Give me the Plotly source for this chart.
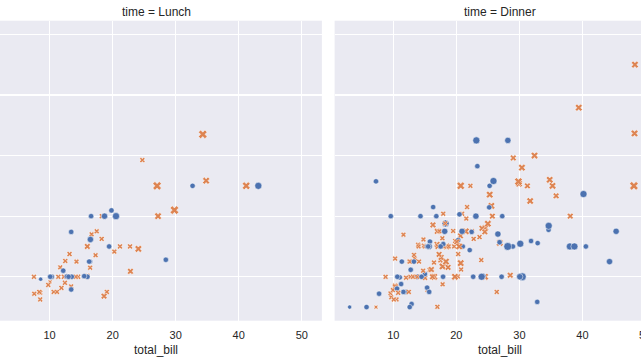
import plotly.graph_objects as go

total_bill = [
    16.99, 10.34, 21.01, 23.68, 24.59, 25.29, 8.77, 26.88, 15.04, 14.78,
    10.27, 35.26, 15.42, 18.43, 14.83, 21.58, 10.33, 16.29, 16.97, 20.65,
    17.92, 20.29, 15.77, 39.42, 19.82, 17.81, 13.37, 12.69, 21.7, 19.65,
    9.55, 18.35, 15.06, 20.69, 17.78, 24.06, 16.31, 16.93, 18.69, 31.27,
    16.04, 17.46, 13.94, 9.68, 30.4, 18.29, 22.23, 32.4, 28.55, 18.04,
    12.54, 10.29, 34.81, 9.94, 25.56, 19.49, 38.01, 26.41, 11.24, 48.27,
    20.29, 13.81, 11.02, 18.29, 17.59, 20.08, 16.45, 3.07, 20.23, 15.01,
    12.02, 17.07, 26.86, 25.28, 14.73, 10.51, 17.92, 27.2, 22.76, 17.29,
    19.44, 16.66, 10.07, 32.68, 15.98, 34.83, 13.03, 18.28, 24.71, 21.16,
    28.97, 22.49, 5.75, 16.32, 22.75, 40.17, 27.28, 12.03, 21.01, 12.46,
    11.35, 15.38, 44.3, 22.42, 20.92, 15.36, 20.49, 25.21, 18.24, 14.31,
    14.0, 7.25, 38.07, 23.95, 25.71, 17.31, 29.93, 10.65, 12.43, 24.08,
    11.69, 13.42, 14.26, 15.95, 12.48, 29.8, 8.52, 14.52, 11.38, 22.82,
    19.08, 20.27, 11.17, 12.26, 18.26, 8.51, 10.33, 14.15, 16.0, 13.16,
    17.47, 34.3, 41.19, 27.05, 16.43, 8.35, 18.64, 11.87, 9.78, 7.51,
    14.07, 13.13, 17.26, 24.55, 19.77, 29.85, 48.17, 25.0, 13.39, 16.49,
    21.5, 12.66, 16.21, 13.81, 17.51, 24.52, 20.76, 31.71, 10.59, 10.63,
    50.81, 15.81, 7.25, 31.85, 16.82, 32.9, 17.89, 14.48, 9.6, 34.63,
    34.65, 23.33, 45.35, 23.17, 40.55, 20.69, 20.9, 30.46, 18.15, 23.1,
    15.69, 19.81, 28.44, 15.48, 16.58, 7.56, 10.34, 43.11, 13.0, 13.51,
    18.71, 12.74, 13.0, 16.4, 20.53, 16.47, 26.59, 38.73, 24.27, 12.76,
    30.06, 25.89, 48.33, 13.27, 28.17, 12.9, 28.15, 11.59, 7.74, 30.14,
    12.16, 13.42, 8.58, 15.98, 13.42, 16.27, 10.09, 20.45, 13.28, 22.12,
    24.01, 15.69, 11.61, 10.77, 15.53, 10.07, 12.6, 32.83, 35.83, 29.03,
    27.18, 22.67, 17.82, 18.78,
]

tip = [
    1.01, 1.66, 3.5, 3.31, 3.61, 4.71, 2.0, 3.12, 1.96, 3.23,
    1.71, 5.0, 1.57, 3.0, 3.02, 3.92, 1.67, 3.71, 3.5, 3.35,
    4.08, 2.75, 2.23, 7.58, 3.18, 2.34, 2.0, 2.0, 4.3, 3.0,
    1.45, 2.5, 3.0, 2.45, 3.27, 3.6, 2.0, 3.07, 2.31, 5.0,
    2.24, 2.54, 3.06, 1.32, 5.6, 3.0, 5.0, 6.0, 2.05, 3.0,
    2.5, 2.6, 5.2, 1.56, 4.34, 3.51, 3.0, 1.5, 1.76, 6.73,
    3.21, 2.0, 1.98, 3.76, 2.64, 3.15, 2.47, 1.0, 2.01, 2.09,
    1.97, 3.0, 3.14, 5.0, 2.2, 1.25, 3.08, 4.0, 3.0, 2.71,
    3.0, 3.4, 1.83, 5.0, 2.03, 5.17, 2.0, 4.0, 5.85, 3.0,
    3.0, 3.5, 1.0, 4.3, 3.25, 4.73, 4.0, 1.5, 3.0, 1.5,
    2.5, 3.0, 2.5, 3.48, 4.08, 1.64, 4.06, 4.29, 3.76, 4.0,
    3.0, 1.0, 4.0, 2.55, 4.0, 3.5, 5.07, 1.5, 1.8, 2.92,
    2.31, 1.68, 2.5, 2.0, 2.52, 4.2, 1.48, 2.0, 2.0, 2.18,
    1.5, 2.83, 1.5, 2.0, 3.25, 1.25, 2.0, 2.0, 2.0, 2.75,
    3.5, 6.7, 5.0, 5.0, 2.3, 1.5, 1.36, 1.63, 1.73, 2.0,
    2.5, 2.0, 2.74, 2.0, 2.0, 5.14, 5.0, 3.75, 2.61, 2.0,
    3.5, 2.5, 2.0, 2.0, 3.0, 3.48, 2.24, 4.5, 1.61, 2.0,
    10.0, 3.16, 5.15, 3.18, 4.0, 3.11, 2.0, 2.0, 4.0, 3.55,
    3.68, 5.65, 3.5, 6.5, 3.0, 5.0, 3.5, 2.0, 3.5, 4.0,
    1.5, 4.19, 2.56, 2.02, 4.0, 1.44, 2.0, 5.0, 2.0, 2.0,
    4.0, 2.01, 2.0, 2.5, 4.0, 3.23, 3.41, 3.0, 2.03, 2.23,
    2.0, 5.16, 9.0, 2.5, 6.5, 1.1, 3.0, 1.5, 1.44, 3.09,
    2.2, 3.48, 1.92, 3.0, 1.58, 2.5, 2.0, 3.0, 2.72, 2.88,
    2.0, 3.0, 3.39, 1.47, 3.0, 1.25, 1.0, 1.17, 4.67, 5.92,
    2.0, 2.0, 1.75, 3.0,
]

# smoker per row, in groups of ten: Y = Yes, N = No
smoker_codes = [
    "NNNNNNNNNN", "NNNNNNNNNN", "NNNNNNNNNN", "NNNNNNNNNN", "NNNNNNNNNN",
    "NNNNNNYNYN", "YYYYNNNYNY", "NNYYNNYNNN", "YNNYNNNNNN", "YNYYNYYYYN",
    "YYYYNYYYNY", "NNNNNNNNNN", "NNNNNNNNNN", "NNNNNNNNYN", "NNNNNNNNNN",
    "NNNNNNNNNN", "NNNNYNNNYY", "YYYYYYYYYY", "YYYYYNYYYY", "YYYYYNYYYY",
    "YYYYYYYYYY", "YYNYYYYYYY", "YYYNYYYNNY", "YYNNYNYYNN", "YYNN",
]
smoker = ["Yes" if c == "Y" else "No" for c in "".join(smoker_codes)]

# meal time per row as runs: (code, count), L = Lunch, D = Dinner
time_runs = [("D", 77), ("L", 13), ("D", 27), ("L", 33), ("D", 41),
             ("L", 15), ("D", 14), ("L", 7), ("D", 17)]
time = []
for code, n in time_runs:
    time += ["Lunch" if code == "L" else "Dinner"] * n

size = [
    2, 3, 3, 2, 4, 4, 2, 4, 2, 2,
    2, 4, 2, 4, 2, 2, 3, 3, 3, 3,
    2, 2, 2, 4, 2, 4, 2, 2, 2, 2,
    2, 4, 2, 4, 2, 3, 3, 3, 3, 3,
    3, 2, 2, 2, 4, 2, 2, 4, 3, 2,
    2, 2, 4, 2, 4, 2, 4, 2, 2, 4,
    2, 2, 2, 4, 3, 3, 2, 1, 2, 2,
    2, 3, 2, 2, 2, 2, 2, 4, 2, 2,
    2, 2, 1, 2, 2, 4, 2, 2, 2, 2,
    2, 2, 2, 2, 2, 4, 2, 2, 2, 2,
    2, 2, 3, 2, 2, 2, 2, 2, 2, 2,
    2, 1, 3, 2, 3, 2, 4, 2, 2, 4,
    2, 2, 2, 2, 2, 6, 2, 2, 2, 3,
    2, 2, 2, 2, 2, 2, 2, 2, 2, 2,
    2, 6, 5, 6, 2, 2, 3, 2, 2, 2,
    2, 2, 3, 4, 4, 5, 6, 4, 2, 4,
    4, 2, 3, 2, 2, 3, 2, 4, 2, 2,
    3, 2, 2, 2, 2, 2, 2, 2, 2, 2,
    4, 2, 3, 4, 2, 5, 3, 5, 3, 3,
    2, 2, 2, 2, 2, 2, 2, 4, 2, 2,
    3, 2, 2, 2, 4, 3, 3, 4, 2, 2,
    3, 4, 4, 2, 3, 2, 5, 2, 2, 4,
    2, 2, 1, 3, 2, 2, 2, 4, 2, 2,
    4, 3, 2, 2, 2, 2, 2, 2, 3, 3,
    2, 2, 2, 2,
]

panels = ["Lunch", "Dinner"]
x_ticks = [10, 20, 30, 40, 50]
y_ticks = [2, 4, 6, 8, 10]

COLORS = {"Yes": "#4C72B0", "No": "#DD8452"}
SYMBOLS = {"Yes": "circle", "No": "x"}
TEXT = "#262626"
FONT = "Liberation Sans, Arial, sans-serif"

W, H = 641, 360
smin, smax = min(size), max(size)


def marker_px(s, sym):
    area = 18 + (s - smin) / (smax - smin) * (72 - 18)
    d = area ** 0.5
    return d * (0.9 if sym == "x" else 1.0)


fig = go.Figure()
n = min(len(total_bill), len(tip), len(smoker), len(time), len(size))
for i, panel in enumerate(panels):
    idx = [k for k in range(n) if time[k] == panel]
    sm = [smoker[k] for k in idx]
    fig.add_trace(go.Scatter(
        x=[total_bill[k] for k in idx],
        y=[tip[k] for k in idx],
        mode="markers",
        xaxis="x" if i == 0 else "x2",
        yaxis="y" if i == 0 else "y2",
        showlegend=False,
        hoverinfo="skip",
        marker=dict(
            color=[COLORS[s] for s in sm],
            symbol=[SYMBOLS[s] for s in sm],
            size=[marker_px(size[k], SYMBOLS[smoker[k]]) for k in idx],
            line=dict(color="white", width=0.5),
            opacity=1,
        ),
    ))

# data limits with matplotlib-style 5% margins
xmin, xmax = min(total_bill), max(total_bill)
xm = 0.05 * (xmax - xmin)
x_lo, x_hi = xmin - xm, xmax + xm
ymin, ymax = min(tip), max(tip)
ym = 0.05 * (ymax - ymin)
y_lo, y_hi = ymin - ym, ymax + ym

# pixel geometry of the (cropped) facets
facet_px = 331.0
px_per_unit = facet_px / (x_hi - x_lo)
left_right_px = 321.9
left_lo = x_hi - left_right_px / px_per_unit
right_left_px = 334.6
right_hi = x_lo + (W - right_left_px) / px_per_unit

top_px, bot_px = 20.7, 320.7
ydom = [(H - bot_px) / H, (H - top_px) / H]

axis_common = dict(
    showgrid=True, gridcolor="white", gridwidth=1.2,
    zeroline=False, showline=False, ticks="", automargin=False,
    tickfont=dict(size=11, color=TEXT, family=FONT),
)

fig.update_layout(
    width=W, height=H,
    margin=dict(l=0, r=0, t=0, b=0, pad=0, autoexpand=False),
    paper_bgcolor="white",
    plot_bgcolor="#EAEAF2",
    font=dict(family=FONT, color=TEXT),
    xaxis=dict(domain=[0, left_right_px / W], range=[left_lo, x_hi],
               tickvals=x_ticks, anchor="y", ticklabelstandoff=6, **axis_common),
    xaxis2=dict(domain=[right_left_px / W, 1], range=[x_lo, right_hi],
                tickvals=x_ticks, anchor="y2", ticklabelstandoff=6, **axis_common),
    yaxis=dict(domain=ydom, range=[y_lo, y_hi], tickvals=y_ticks,
               showticklabels=False, anchor="x", **axis_common),
    yaxis2=dict(domain=ydom, range=[y_lo, y_hi], tickvals=y_ticks,
                showticklabels=False, anchor="x2", matches="y", **axis_common),
)

left_c = (left_right_px - facet_px / 2) / W
right_c = (right_left_px + facet_px / 2) / W
tfont = dict(size=12, color=TEXT, family=FONT)
# the right facet's "50" tick label lies past the cropped edge of the page
x50_paper = (right_left_px + (x_ticks[-1] - x_lo) * px_per_unit) / W


def label(text, x, y_px, font):
    return dict(text=text, x=x, y=1 - y_px / H, xref="paper", yref="paper",
                xanchor="center", yanchor="middle", showarrow=False, font=font)


ann = [
    label("time = Lunch", left_c, 11.7, tfont),
    label("time = Dinner", right_c, 11.7, tfont),
    label("total_bill", left_c, 350, tfont),
    label("total_bill", right_c, 350, tfont),
    label(str(x_ticks[-1]), x50_paper, 335, dict(size=11, color=TEXT, family=FONT)),
]
fig.update_layout(annotations=ann)

# remove the browser's default 8px page margin so the figure sits at (0, 0)
fig.write_html(
    "out.html",
    config={"displayModeBar": False, "staticPlot": True},
    post_script="document.body.style.margin='0';document.body.style.overflow='hidden';",
)
